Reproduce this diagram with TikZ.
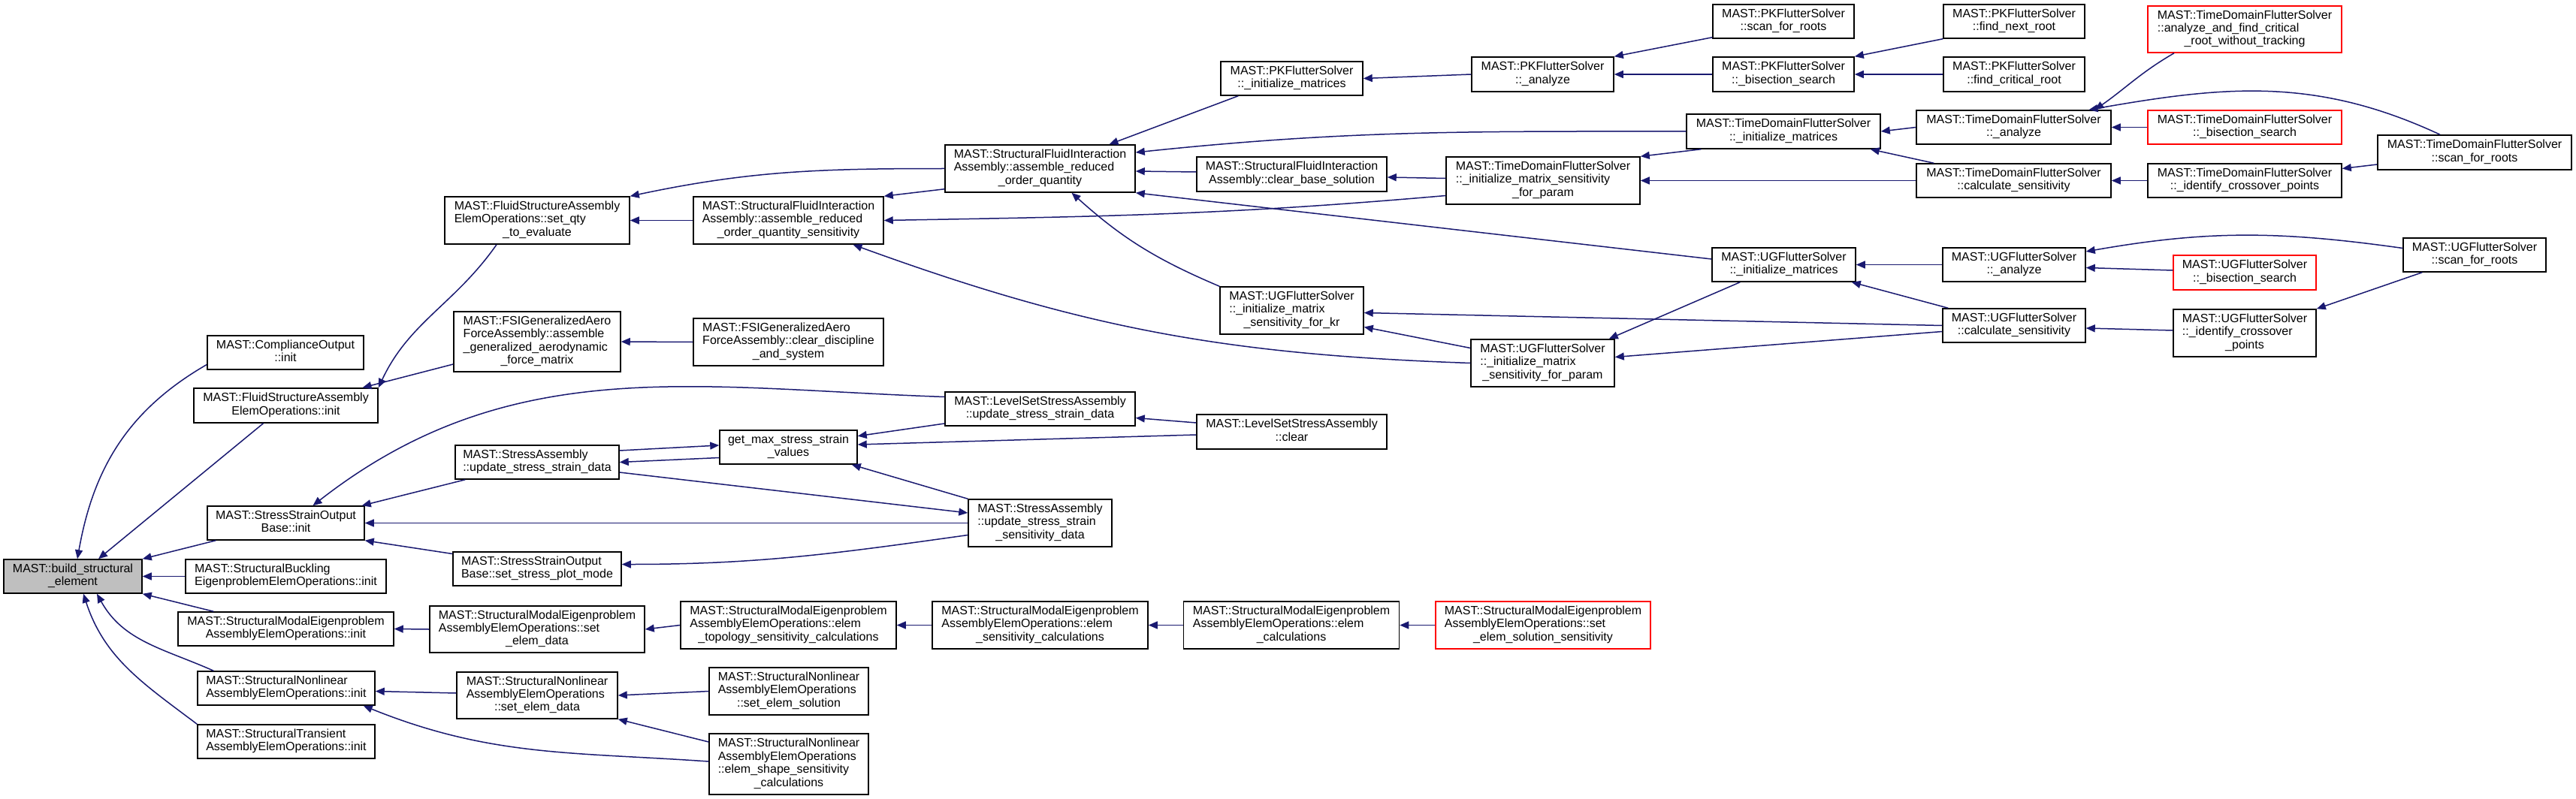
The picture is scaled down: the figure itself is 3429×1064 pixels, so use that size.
\documentclass[tikz,border=0pt]{standalone}
\usepackage{fontspec}
\setmainfont{Liberation Sans}
\usetikzlibrary{arrows.meta}
\definecolor{edgenavy}{RGB}{25,25,112}
\definecolor{boxgray}{RGB}{191,191,191}
\definecolor{boxred}{RGB}{255,0,0}
\newcommand{\fnfont}{\fontsize{8pt}{8.7pt}\selectfont}
\newcommand{\fnlines}[1]{\begin{tabular}{@{}l@{}}#1\end{tabular}}
\newcommand{\lastln}[1]{\multicolumn{1}{@{}c@{}}{#1}}
\tikzset{
  fnbox/.style={rectangle,draw=black,line width=0.75pt,fill=white,inner sep=0pt,font=\fnfont},
  fncur/.style={fnbox,fill=boxgray},
  fnred/.style={fnbox,draw=boxred},
  call/.style={{Triangle[length=6pt,width=5pt]}-,draw=edgenavy,line width=0.75pt}
}
\begin{document}
\begin{tikzpicture}[x=0.5pt,y=0.5pt]
  \useasboundingbox (0,0) rectangle (3429,-1064);

  \node[fncur,minimum width=92pt,minimum height=22.5pt] (build) at (97,-767.5) {\fnlines{MAST::build\_structural\\\lastln{\_element}}};

  \node[fnbox,minimum width=104pt,minimum height=22.5pt] (compl) at (380,-469.5) {\fnlines{MAST::ComplianceOutput\\\lastln{::init}}};
  \node[fnbox,minimum width=122.5pt,minimum height=23pt] (fsaInit) at (380.5,-540) {\fnlines{MAST::FluidStructureAssembly\\\lastln{ElemOperations::init}}};
  \node[fnbox,minimum width=104.5pt,minimum height=22.5pt] (ssobInit) at (380.5,-696.5) {\fnlines{MAST::StressStrainOutput\\\lastln{Base::init}}};
  \node[fnbox,minimum width=133.5pt,minimum height=22.5pt] (buckling) at (380.5,-767.5) {\fnlines{MAST::StructuralBuckling\\\lastln{EigenproblemElemOperations::init}}};
  \node[fnbox,minimum width=143.5pt,minimum height=22.5pt] (modalInit) at (380.5,-837.5) {\fnlines{MAST::StructuralModalEigenproblem\\\lastln{AssemblyElemOperations::init}}};
  \node[fnbox,minimum width=118pt,minimum height=22.5pt] (nlInit) at (381,-916.5) {\fnlines{MAST::StructuralNonlinear\\\lastln{AssemblyElemOperations::init}}};
  \node[fnbox,minimum width=118pt,minimum height=22.5pt] (transInit) at (381,-987.5) {\fnlines{MAST::StructuralTransient\\\lastln{AssemblyElemOperations::init}}};

  \node[fnbox,minimum width=123pt,minimum height=31.5pt] (setQty) at (715,-293.5) {\fnlines{MAST::FluidStructureAssembly\\ElemOperations::set\_qty\\\lastln{\_to\_evaluate}}};
  \node[fnbox,minimum width=111pt,minimum height=40pt] (fsiAssemble) at (715,-455) {\fnlines{MAST::FSIGeneralizedAero\\ForceAssembly::assemble\\\_generalized\_aerodynamic\\\lastln{\_force\_matrix}}};
  \node[fnbox,minimum width=109pt,minimum height=22.5pt] (saUpdate) at (715,-615.5) {\fnlines{MAST::StressAssembly\\\lastln{::update\_stress\_strain\_data}}};
  \node[fnbox,minimum width=112pt,minimum height=22.5pt] (ssobPlot) at (715,-757.5) {\fnlines{MAST::StressStrainOutput\\\lastln{Base::set\_stress\_plot\_mode}}};
  \node[fnbox,minimum width=143pt,minimum height=31pt] (modalSetData) at (715,-838) {\fnlines{MAST::StructuralModalEigenproblem\\AssemblyElemOperations::set\\\lastln{\_elem\_data}}};
  \node[fnbox,minimum width=107pt,minimum height=31pt] (nlSetData) at (715,-926) {\fnlines{MAST::StructuralNonlinear\\AssemblyElemOperations\\\lastln{::set\_elem\_data}}};

  \node[fnbox,minimum width=126.5pt,minimum height=31.5pt] (sfiaSens) at (1049.5,-293.5) {\fnlines{MAST::StructuralFluidInteraction\\Assembly::assemble\_reduced\\\lastln{\_order\_quantity\_sensitivity}}};
  \node[fnbox,minimum width=126.5pt,minimum height=31.5pt] (fsiClear) at (1049.5,-455.5) {\fnlines{MAST::FSIGeneralizedAero\\ForceAssembly::clear\_discipline\\\lastln{\_and\_system}}};
  \node[fnbox,minimum width=91.5pt,minimum height=22.5pt] (getMax) at (1049.5,-595.5) {\fnlines{get\_max\_stress\_strain\\\lastln{\_values}}};
  \node[fnbox,minimum width=143.5pt,minimum height=31.5pt] (modalTopo) at (1049.5,-832.5) {\fnlines{MAST::StructuralModalEigenproblem\\AssemblyElemOperations::elem\\\lastln{\_topology\_sensitivity\_calculations}}};
  \node[fnbox,minimum width=106pt,minimum height=31.5pt] (nlSetSol) at (1050,-920.5) {\fnlines{MAST::StructuralNonlinear\\AssemblyElemOperations\\\lastln{::set\_elem\_solution}}};
  \node[fnbox,minimum width=106pt,minimum height=40.5pt] (nlShape) at (1050,-1017.5) {\fnlines{MAST::StructuralNonlinear\\AssemblyElemOperations\\::elem\_shape\_sensitivity\\\lastln{\_calculations}}};

  \node[fnbox,minimum width=126.5pt,minimum height=31.5pt] (sfiaRoq) at (1384.5,-224.5) {\fnlines{MAST::StructuralFluidInteraction\\Assembly::assemble\_reduced\\\lastln{\_order\_quantity}}};
  \node[fnbox,minimum width=126.5pt,minimum height=22.5pt] (lsUpdate) at (1384.5,-544.5) {\fnlines{MAST::LevelSetStressAssembly\\\lastln{::update\_stress\_strain\_data}}};
  \node[fnbox,minimum width=95.5pt,minimum height=31.5pt] (saSens) at (1384.5,-696.5) {\fnlines{MAST::StressAssembly\\::update\_stress\_strain\\\lastln{\_sensitivity\_data}}};
  \node[fnbox,minimum width=143.5pt,minimum height=31.5pt] (modalSens) at (1384.5,-832.5) {\fnlines{MAST::StructuralModalEigenproblem\\AssemblyElemOperations::elem\\\lastln{\_sensitivity\_calculations}}};

  \node[fnbox,minimum width=94.5pt,minimum height=22.5pt] (pkInitMat) at (1719.5,-104.5) {\fnlines{MAST::PKFlutterSolver\\\lastln{::\_initialize\_matrices}}};
  \node[fnbox,minimum width=126.5pt,minimum height=23pt] (sfiaClear) at (1719.5,-232) {\fnlines{MAST::StructuralFluidInteraction\\\lastln{Assembly::clear\_base\_solution}}};
  \node[fnbox,minimum width=95.5pt,minimum height=31.5pt] (ugSensKr) at (1719.5,-413.5) {\fnlines{MAST::UGFlutterSolver\\::\_initialize\_matrix\\\lastln{\_sensitivity\_for\_kr}}};
  \node[fnbox,minimum width=126.5pt,minimum height=23pt] (lsClear) at (1719.5,-575) {\fnlines{MAST::LevelSetStressAssembly\\\lastln{::clear}}};
  \node[fnbox,minimum width=143.5pt,minimum height=31.5pt] (modalCalc) at (1719,-832.5) {\fnlines{MAST::StructuralModalEigenproblem\\AssemblyElemOperations::elem\\\lastln{\_calculations}}};

  \node[fnbox,minimum width=94.5pt,minimum height=23pt] (pkAnalyze) at (2053.5,-99) {\fnlines{MAST::PKFlutterSolver\\\lastln{::\_analyze}}};
  \node[fnbox,minimum width=129pt,minimum height=31.5pt] (tdSensParam) at (2054,-240.5) {\fnlines{MAST::TimeDomainFlutterSolver\\::\_initialize\_matrix\_sensitivity\\\lastln{\_for\_param}}};
  \node[fnbox,minimum width=95.5pt,minimum height=31.5pt] (ugSensParam) at (2053.5,-483.5) {\fnlines{MAST::UGFlutterSolver\\::\_initialize\_matrix\\\lastln{\_sensitivity\_for\_param}}};
  \node[fnred,minimum width=143pt,minimum height=31.5pt] (modalSetSol) at (2054,-832.5) {\fnlines{MAST::StructuralModalEigenproblem\\AssemblyElemOperations::set\\\lastln{\_elem\_solution\_sensitivity}}};

  \node[fnbox,minimum width=94pt,minimum height=22.5pt] (pkScan) at (2374,-28.5) {\fnlines{MAST::PKFlutterSolver\\\lastln{::scan\_for\_roots}}};
  \node[fnbox,minimum width=94pt,minimum height=23pt] (pkBisect) at (2374,-99) {\fnlines{MAST::PKFlutterSolver\\\lastln{::\_bisection\_search}}};
  \node[fnbox,minimum width=129pt,minimum height=23pt] (tdInitMat) at (2374,-175) {\fnlines{MAST::TimeDomainFlutterSolver\\\lastln{::\_initialize\_matrices}}};
  \node[fnbox,minimum width=95.5pt,minimum height=22.5pt] (ugInitMat) at (2374.5,-352.5) {\fnlines{MAST::UGFlutterSolver\\\lastln{::\_initialize\_matrices}}};

  \node[fnbox,minimum width=94pt,minimum height=22.5pt] (pkNext) at (2681,-28.5) {\fnlines{MAST::PKFlutterSolver\\\lastln{::find\_next\_root}}};
  \node[fnbox,minimum width=94pt,minimum height=23pt] (pkCrit) at (2681,-99) {\fnlines{MAST::PKFlutterSolver\\\lastln{::find\_critical\_root}}};
  \node[fnbox,minimum width=129.5pt,minimum height=22.5pt] (tdAnalyze) at (2680.5,-169.5) {\fnlines{MAST::TimeDomainFlutterSolver\\\lastln{::\_analyze}}};
  \node[fnbox,minimum width=129.5pt,minimum height=22.5pt] (tdCalcSens) at (2680.5,-240.5) {\fnlines{MAST::TimeDomainFlutterSolver\\\lastln{::calculate\_sensitivity}}};
  \node[fnbox,minimum width=95pt,minimum height=22.5pt] (ugAnalyze) at (2681,-352.5) {\fnlines{MAST::UGFlutterSolver\\\lastln{::\_analyze}}};
  \node[fnbox,minimum width=95pt,minimum height=22.5pt] (ugCalcSens) at (2681,-433.5) {\fnlines{MAST::UGFlutterSolver\\\lastln{::calculate\_sensitivity}}};

  \node[fnred,minimum width=129pt,minimum height=31pt] (tdAnalyzeFind) at (2988,-39) {\fnlines{MAST::TimeDomainFlutterSolver\\::analyze\_and\_find\_critical\\\lastln{\_root\_without\_tracking}}};
  \node[fnred,minimum width=129pt,minimum height=22.5pt] (tdBisect) at (2988,-169.5) {\fnlines{MAST::TimeDomainFlutterSolver\\\lastln{::\_bisection\_search}}};
  \node[fnbox,minimum width=129pt,minimum height=22.5pt] (tdCross) at (2988,-240.5) {\fnlines{MAST::TimeDomainFlutterSolver\\\lastln{::\_identify\_crossover\_points}}};
  \node[fnred,minimum width=95pt,minimum height=23pt] (ugBisect) at (2988,-363) {\fnlines{MAST::UGFlutterSolver\\\lastln{::\_bisection\_search}}};
  \node[fnbox,minimum width=95pt,minimum height=31.5pt] (ugCross) at (2988,-443.5) {\fnlines{MAST::UGFlutterSolver\\::\_identify\_crossover\\\lastln{\_points}}};

  \node[fnbox,minimum width=129pt,minimum height=23pt] (tdScan) at (3294,-203) {\fnlines{MAST::TimeDomainFlutterSolver\\\lastln{::scan\_for\_roots}}};
  \node[fnbox,minimum width=95pt,minimum height=22.5pt] (ugScan) at (3294,-339.5) {\fnlines{MAST::UGFlutterSolver\\\lastln{::scan\_for\_roots}}};

  \draw[call] ([xshift=3pt]build.north) to[out=80,in=210] ([yshift=-8pt]compl.west);
  \draw[call] ([xshift=17pt]build.north) -- ([xshift=-15pt]fsaInit.south);
  \draw[call] (build.north east) -- ([xshift=6pt]ssobInit.south west);
  \draw[call] (build.east) -- (buckling.west);
  \draw[call] (build.south east) -- ([xshift=24pt]modalInit.north west);
  \draw[call] ([xshift=16pt]build.south) to[out=-61,in=156] ([xshift=11pt]nlInit.north west);
  \draw[call] ([xshift=7pt]build.south) to[out=-72,in=143] (transInit.north west);

  \draw[call] ([xshift=51pt]fsaInit.north) -- ([yshift=-15pt]fsiAssemble.west);
  \draw[call] (fsaInit.north east) to[out=65,in=-125] ([xshift=-27pt]setQty.south);
  \draw[call] (setQty.north east) to[out=12,in=180] (sfiaRoq.west);
  \draw[call] (setQty.east) -- (sfiaSens.west);
  \draw[call] (fsiAssemble.east) -- (fsiClear.west);
  \draw[call] (sfiaSens.north east) -- ([yshift=2.5pt]sfiaRoq.south west);
  \draw[call] (sfiaSens.east) to[out=1,in=185] ([yshift=-10pt]tdSensParam.west);
  \draw[call] ([xshift=43pt]sfiaSens.south) to[out=-20,in=178] (ugSensParam.west);

  \draw[call] ([xshift=46pt]sfiaRoq.north) -- ([xshift=12pt]pkInitMat.south west);
  \draw[call] ([yshift=10.75pt]sfiaRoq.east) to[out=6,in=180] (tdInitMat.west);
  \draw[call] ([yshift=-1.75pt]sfiaRoq.east) -- ([yshift=1.5pt]sfiaClear.west);
  \draw[call] (sfiaRoq.south east) -- ([yshift=3.75pt]ugInitMat.west);
  \draw[call] ([xshift=21pt]sfiaRoq.south) to[out=-42,in=157] (ugSensKr.north west);

  \draw[call] (pkInitMat.east) -- (pkAnalyze.west);
  \draw[call] (pkAnalyze.north east) -- ([yshift=1pt]pkScan.south west);
  \draw[call] (pkAnalyze.east) -- (pkBisect.west);
  \draw[call] (pkBisect.north east) -- (pkNext.south west);
  \draw[call] (pkBisect.east) -- (pkCrit.west);

  \draw[call] ([yshift=-2pt]sfiaClear.east) -- ([yshift=1.5pt]tdSensParam.west);
  \draw[call] (tdSensParam.north east) -- ([xshift=10pt]tdInitMat.south west);
  \draw[call] (tdSensParam.east) -- (tdCalcSens.west);
  \draw[call] (tdInitMat.east) -- (tdAnalyze.west);
  \draw[call] ([xshift=-7pt]tdInitMat.south east) -- ([xshift=12pt]tdCalcSens.north west);
  \draw[call] ([xshift=54pt]tdAnalyze.north) to[out=35,in=-150] ([xshift=-47pt]tdAnalyzeFind.south);
  \draw[call] (tdAnalyze.east) -- (tdBisect.west);
  \draw[call] ([xshift=50pt]tdAnalyze.north) to[out=10,in=155] ([xshift=-23pt]tdScan.north);
  \draw[call] (tdCalcSens.east) -- (tdCross.west);
  \draw[call] ([yshift=8pt]tdCross.east) -- ([yshift=-8pt]tdScan.west);

  \draw[call] ([yshift=-1.5pt]ugSensKr.east) -- (ugCalcSens.west);
  \draw[call] ([yshift=-11pt]ugSensKr.east) -- ([yshift=10pt]ugSensParam.west);
  \draw[call] ([xshift=-4pt]ugSensParam.north east) -- ([xshift=19pt]ugInitMat.south west);
  \draw[call] ([yshift=4pt]ugSensParam.east) -- ([yshift=-4pt]ugCalcSens.west);
  \draw[call] (ugInitMat.east) -- (ugAnalyze.west);
  \draw[call] ([xshift=-3pt]ugInitMat.south east) -- ([xshift=4pt]ugCalcSens.north west);
  \draw[call] ([yshift=8.75pt]ugAnalyze.east) to[out=10,in=172] ([yshift=4.5pt]ugScan.west);
  \draw[call] ([yshift=-2pt]ugAnalyze.east) -- ([yshift=1.5pt]ugBisect.west);
  \draw[call] ([yshift=-1.75pt]ugCalcSens.east) -- ([yshift=1.75pt]ugCross.west);
  \draw[call] (ugCross.north east) -- ([xshift=13pt]ugScan.south west);

  \draw[call] ([xshift=18pt]ssobInit.north) to[out=38,in=178] ([yshift=8pt]lsUpdate.west);
  \draw[call] ([xshift=-2pt]ssobInit.north east) -- ([xshift=7pt]saUpdate.south west);
  \draw[call] (ssobInit.east) -- (saSens.west);
  \draw[call] (ssobInit.south east) -- ([yshift=10pt]ssobPlot.west);
  \draw[call] ([yshift=3pt]ssobPlot.east) to[out=0,in=188] ([yshift=-8pt]saSens.west);
  \draw[call] ([yshift=1.25pt]getMax.west) -- ([yshift=7.75pt]saUpdate.east);
  \draw[call] (saUpdate.east) -- ([yshift=-7pt]getMax.west);
  \draw[call] ([yshift=6.75pt]saSens.west) -- ([yshift=-6.75pt]saUpdate.east);
  \draw[call] ([yshift=7.4pt]getMax.east) -- ([yshift=-9.75pt]lsUpdate.west);
  \draw[call] ([yshift=1.75pt]getMax.east) -- ([yshift=-2pt]lsClear.west);
  \draw[call] ([xshift=-4pt]getMax.south east) -- (saSens.north west);
  \draw[call] ([yshift=-6pt]lsUpdate.east) -- ([yshift=6pt]lsClear.west);

  \draw[call] (modalInit.east) -- (modalSetData.west);
  \draw[call] (modalSetData.east) -- (modalTopo.west);
  \draw[call] (modalTopo.east) -- (modalSens.west);
  \draw[call] (modalSens.east) -- (modalCalc.west);
  \draw[call] (modalCalc.east) -- (modalSetSol.west);

  \draw[call] ([yshift=-2pt]nlInit.east) -- ([yshift=1.5pt]nlSetData.west);
  \draw[call] (nlSetData.east) -- (nlSetSol.west);
  \draw[call] (nlSetData.south east) -- ([yshift=14.75pt]nlShape.west);
  \draw[call] ([xshift=-8pt]nlInit.south east) to[out=-22,in=176] ([yshift=1.75pt]nlShape.west);
\end{tikzpicture}
\end{document}
